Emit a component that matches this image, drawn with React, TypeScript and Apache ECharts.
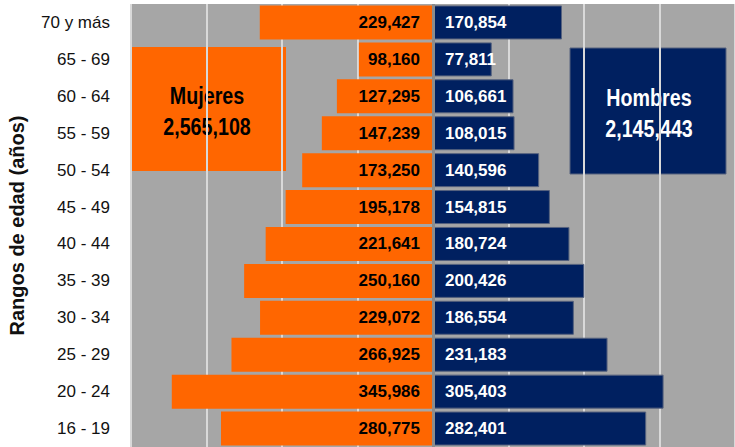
import React, { useEffect, useRef } from "react";
import * as echarts from "echarts";

const categories = [
  "70 y más", "65 - 69", "60 - 64", "55 - 59", "50 - 54", "45 - 49",
  "40 - 44", "35 - 39", "30 - 34", "25 - 29", "20 - 24", "16 - 19",
];
const mujeres = [
  229427, 98160, 127295, 147239, 173250, 195178,
  221641, 250160, 229072, 266925, 345986, 280775,
];
const hombres = [
  170854, 77811, 106661, 108015, 140596, 154815,
  180724, 200426, 186554, 231183, 305403, 282401,
];
const axisTitle = "Rangos de edad (años)";
const labelMujeres = "Mujeres";
const labelHombres = "Hombres";

const FONT = "'Liberation Sans', Arial, sans-serif";
const fmt = (v: number) => Math.abs(v).toLocaleString("en-US");

export default function App() {
  const ref = useRef<HTMLDivElement>(null);
  useEffect(() => {
    if (!ref.current) return;
    const chart = echarts.init(ref.current, undefined, { renderer: "svg" });
    const totalM = mujeres.reduce((a, b) => a + b, 0);
    const totalH = hombres.reduce((a, b) => a + b, 0);
    const boxText = (text: string, x: number, y: number, fill: string) => ({
      type: "text", x, y, scaleX: 0.82,
      style: { text, fontFamily: FONT, fontSize: 24, fontWeight: "bold", fill, textAlign: "center", textVerticalAlign: "middle" },
    });
    chart.setOption({
      animation: false,
      grid: {
        left: 131, right: 0, top: 4, bottom: 0,
        outerBoundsMode: "none", containLabel: false,
        show: true, backgroundColor: "#A6A6A6", borderWidth: 0,
      },
      xAxis: {
        type: "value", min: -400000, max: 400000, interval: 100000,
        axisLabel: { show: false }, axisLine: { show: false }, axisTick: { show: false },
        splitLine: { show: true, lineStyle: { color: "#D9D9D9", width: 2 } },
      },
      yAxis: {
        type: "category", data: categories, inverse: true,
        axisLine: { show: false }, axisTick: { show: false },
        axisLabel: { fontFamily: FONT, fontSize: 17, color: "#111", margin: 21 },
        name: axisTitle, nameLocation: "middle", nameGap: 104, nameRotate: 90,
        nameTextStyle: { fontFamily: FONT, fontWeight: "bold", fontSize: 20, color: "#111" },
      },
      series: [
        {
          name: labelMujeres, type: "bar", stack: "total", barWidth: 34,
          data: mujeres.map((v) => -v),
          itemStyle: { color: "#FF6600" },
          label: {
            show: true, position: "insideRight", distance: 13,
            formatter: (p: any) => fmt(p.value),
            fontFamily: FONT, fontSize: 17, fontWeight: "bold", color: "#000",
          },
        },
        {
          name: labelHombres, type: "bar", stack: "total", barWidth: 34,
          data: hombres,
          itemStyle: { color: "#002060", borderColor: "#56627e", borderWidth: 1 },
          label: {
            show: true, position: "insideLeft", distance: 12,
            formatter: (p: any) => fmt(p.value),
            fontFamily: FONT, fontSize: 17, fontWeight: "bold", color: "#fff",
          },
          markLine: {
            silent: true, symbol: ["none", "none"], label: { show: false },
            lineStyle: { color: "#8C8C8C", width: 3, type: "solid" },
            data: [{ xAxis: 0 }],
          },
        },
      ],
      graphic: [
        { type: "rect", shape: { x: 130, y: 47, width: 156, height: 124 }, style: { fill: "#FF6600" } },
        boxText(labelMujeres, 207, 96, "#000"),
        boxText(fmt(totalM), 207, 127, "#000"),
        { type: "rect", shape: { x: 570, y: 48, width: 156, height: 126 }, style: { fill: "#002060", stroke: "#56627e", lineWidth: 1 } },
        boxText(labelHombres, 649, 98, "#fff"),
        boxText(fmt(totalH), 649, 129, "#fff"),
      ],
    });
    return () => chart.dispose();
  }, []);
  return (
    <div
      ref={ref}
      style={{ position: "fixed", left: 0, top: 0, width: 735, height: 447, background: "#fff" }}
    />
  );
}
